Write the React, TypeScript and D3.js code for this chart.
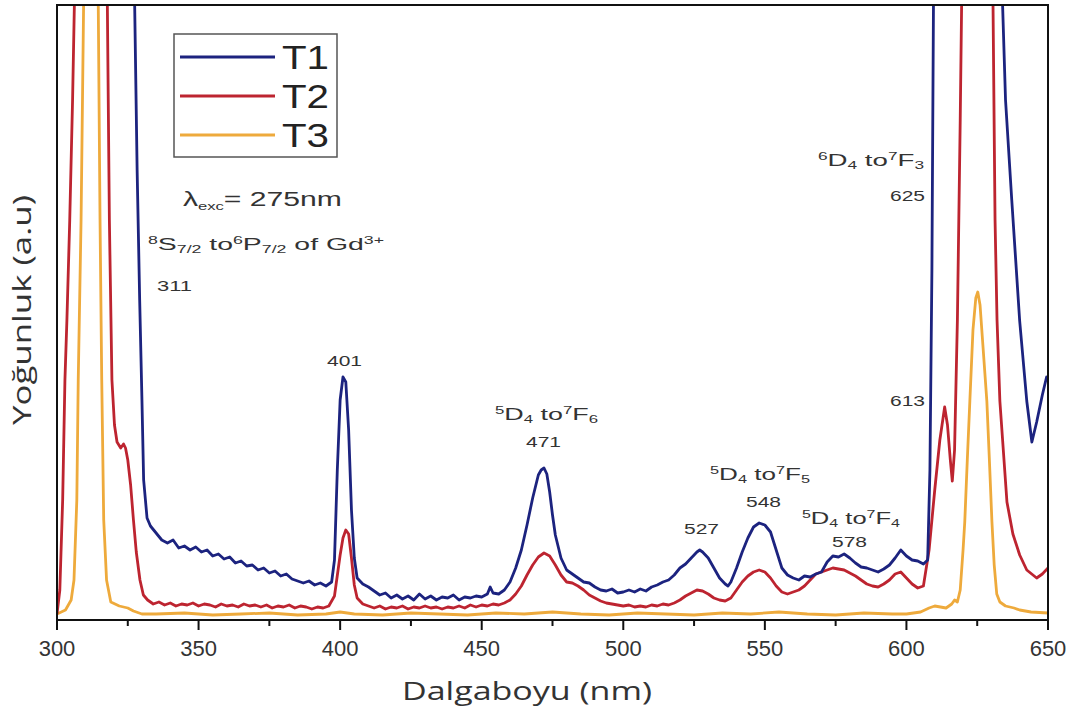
import React from "react";
import * as d3 from "d3";

const majorTicks = [300, 350, 400, 450, 500, 550, 600, 650];
const minorTicks = [325, 375, 425, 475, 525, 575, 625];

// [wavelength nm, intensity a.u.]
const T1: [number, number][] = [
  [300, 900], [326, 900], [327.3, 640], [328.3, 450], [329.2, 320], [330, 220], [330.6, 140], [331.8, 102],
  [333, 94], [335, 87], [337, 80], [339, 77], [341, 80], [343, 72], [345, 74], [347, 70], [349, 73],
  [351, 68], [353, 70], [355, 64], [357, 66], [359, 61], [361, 63], [363, 57], [365, 59], [367, 54],
  [369, 55], [371, 50], [373, 52], [375, 47], [377, 49], [379, 44], [381, 46], [383, 41], [385, 39],
  [387, 37], [389, 39], [391, 35], [393, 37], [395, 34], [397, 38], [398, 60], [399, 150], [400, 220],
  [401, 243], [402, 238], [403, 190], [404, 110], [405, 62], [406, 42], [408, 36], [410, 33], [412, 29],
  [414, 25], [416, 27], [418, 22], [420, 25], [422, 21], [424, 24], [426, 20], [428, 26], [430, 21],
  [432, 24], [434, 20], [436, 23], [438, 22], [440, 25], [442, 20], [444, 23], [446, 22], [448, 24],
  [450, 23], [452, 26], [453, 33], [454, 27], [456, 26], [458, 30], [460, 38], [462, 52], [464, 70],
  [466, 95], [468, 122], [470, 145], [471, 150], [472, 152], [473, 146], [474, 128], [475, 105],
  [476, 85], [478, 62], [480, 50], [482, 46], [484, 42], [486, 38], [488, 37], [490, 33], [492, 30],
  [494, 29], [496, 31], [498, 27], [500, 28], [502, 30], [504, 28], [506, 31], [508, 29], [510, 33],
  [512, 35], [514, 38], [516, 40], [518, 45], [520, 52], [522, 56], [524, 62], [526, 68], [527, 70],
  [528, 68], [530, 62], [532, 52], [534, 42], [536, 36], [537, 34], [538, 38], [540, 52], [542, 68],
  [544, 82], [546, 93], [548, 97], [550, 95], [552, 88], [554, 70], [556, 52], [558, 45], [560, 42],
  [562, 40], [564, 44], [566, 43], [568, 46], [570, 48], [572, 58], [574, 64], [576, 63], [578, 66],
  [580, 62], [582, 57], [584, 53], [586, 52], [588, 50], [590, 48], [592, 51], [594, 55], [596, 62],
  [598, 70], [600, 64], [602, 60], [604, 59], [606, 56], [607.5, 60], [608.3, 150], [609, 350],
  [609.6, 640], [610.2, 900], [633, 900], [633.8, 630], [635, 520], [637.2, 420], [640, 299],
  [642.5, 219], [644.3, 178], [646, 198], [648, 225], [649.5, 243], [650, 240],
];

const T2: [number, number][] = [
  [300, 6], [301, 30], [302, 120], [302.8, 240], [303.5, 300], [304.5, 400], [305.5, 520], [306.3, 640],
  [307, 900], [317, 900], [317.7, 640], [318.5, 400], [319.4, 240], [320.3, 195], [321.2, 178],
  [322.5, 172], [323.5, 176], [324.2, 172], [325, 160], [326, 135], [327, 100], [328, 68], [329.3, 40],
  [330.5, 25], [332, 20], [334, 16], [336, 18], [338, 15], [340, 17], [342, 14], [344, 16], [346, 15],
  [348, 17], [350, 14], [352, 16], [354, 15], [356, 13], [358, 16], [360, 14], [362, 15], [364, 13],
  [366, 16], [368, 14], [370, 15], [372, 13], [374, 15], [376, 12], [378, 14], [380, 13], [382, 15],
  [384, 12], [386, 14], [388, 13], [390, 11], [392, 13], [394, 12], [396, 14], [398, 24], [400, 65],
  [401, 82], [402, 90], [403, 86], [404, 62], [405, 35], [406, 22], [408, 16], [410, 14], [412, 12],
  [414, 14], [416, 11], [418, 13], [420, 12], [422, 14], [424, 11], [426, 13], [428, 12], [430, 14],
  [432, 12], [434, 13], [436, 11], [438, 13], [440, 12], [442, 14], [444, 12], [446, 15], [448, 13],
  [450, 15], [452, 14], [454, 16], [456, 15], [458, 17], [460, 20], [462, 26], [464, 34], [466, 45],
  [468, 55], [470, 63], [472, 67], [474, 64], [476, 55], [478, 45], [480, 38], [482, 37], [484, 34],
  [486, 30], [488, 25], [490, 22], [492, 19], [494, 17], [496, 16], [498, 15], [500, 14], [502, 15],
  [504, 13], [506, 14], [508, 13], [510, 15], [512, 14], [514, 16], [516, 15], [518, 17], [520, 20],
  [522, 24], [524, 27], [526, 30], [528, 29], [530, 26], [532, 22], [534, 20], [536, 19], [538, 22],
  [540, 30], [542, 38], [544, 44], [546, 48], [548, 50], [550, 48], [552, 42], [554, 34], [556, 28],
  [558, 26], [560, 28], [562, 30], [564, 34], [566, 40], [568, 46], [570, 48], [572, 50], [574, 52],
  [576, 51], [578, 50], [580, 47], [582, 44], [584, 40], [586, 36], [588, 34], [590, 33], [592, 36],
  [594, 40], [596, 46], [598, 48], [600, 42], [602, 36], [604, 32], [606, 34], [608, 70], [610, 130],
  [611.8, 180], [613.5, 213], [614.5, 195], [615.5, 160], [616.2, 139], [617, 170], [618, 300],
  [619, 500], [619.6, 640], [620, 900], [630, 900], [630.5, 640], [631.3, 400], [632, 300], [633, 219],
  [635.5, 118], [637.6, 86], [640, 65], [642.5, 50], [646, 42], [648, 46], [650, 52],
];

const T3: [number, number][] = [
  [300, 6], [303, 10], [305, 20], [306, 40], [307, 120], [307.5, 240], [308.5, 400], [309.5, 640],
  [310, 900], [314, 900], [314.5, 640], [315.2, 400], [315.8, 240], [316.5, 100], [317.5, 40],
  [319, 18], [322, 14], [325, 12], [327, 9], [330, 6], [335, 6], [345, 7], [355, 5], [365, 6],
  [375, 7], [385, 5], [395, 6], [400, 8], [405, 6], [415, 5], [425, 7], [435, 6], [445, 5], [455, 7],
  [465, 6], [475, 8], [485, 6], [495, 5], [505, 7], [515, 6], [525, 5], [535, 7], [545, 6], [555, 8],
  [565, 6], [575, 5], [585, 7], [595, 6], [600, 6], [605, 8], [608, 12], [610, 14], [612, 13],
  [614, 12], [616, 16], [617, 20], [618, 18], [619, 30], [620, 70], [620.6, 98], [621.5, 160],
  [622.4, 219], [623.5, 290], [624.5, 322], [625.2, 328], [626, 315], [627, 275], [628.4, 219],
  [629.3, 160], [630.2, 98], [631, 55], [631.9, 26], [633, 18], [635, 14], [638, 12], [640, 10],
  [644, 8], [650, 7],
];

const seriesNames = ["T1", "T2", "T3"];
const seriesColors = ["#1c237f", "#bd2430", "#eeaa3c"];

const W = 1084;
const H = 715;
const L = 57, R = 1048, TOP = 5, BOT = 620;

type TermProps = { x: number; y: number; pre: string; sub1: string; sup2: string; sub2: string; len: number; main?: string };
function Term({ x, y, pre, sub1, sup2, sub2, len }: TermProps) {
  return (
    <text x={x} y={y} fontFamily="'Liberation Sans', Arial, sans-serif" fill="#333" fontSize={16}
      textLength={len} lengthAdjust="spacingAndGlyphs">
      <tspan dy={-6} fontSize={10}>{pre}</tspan>
      <tspan dy={6}>D</tspan>
      <tspan dy={3} fontSize={10}>{sub1}</tspan>
      <tspan dy={-3}> to</tspan>
      <tspan dy={-6} fontSize={10}>{sup2}</tspan>
      <tspan dy={6}>F</tspan>
      <tspan dy={3} fontSize={10}>{sub2}</tspan>
    </text>
  );
}

function Num({ x, y, t }: { x: number; y: number; t: string }) {
  return (
    <text x={x} y={y} fontFamily="'Liberation Sans', Arial, sans-serif" fill="#333" fontSize={15}
      textLength={35} lengthAdjust="spacingAndGlyphs">{t}</text>
  );
}

export default function App() {
  const x = d3.scaleLinear().domain([300, 650]).range([L, R]);
  const y = d3.scaleLinear().domain([0, 615]).range([BOT, TOP]);
  const line = d3.line<[number, number]>().x(d => x(d[0])).y(d => y(d[1]));
  const data = [T1, T2, T3];
  const font = "'Liberation Sans', Arial, sans-serif";
  const titleFont = "'Open Sans', 'Noto Sans', sans-serif";
  return (
    <svg width={W} height={H} style={{ position: "absolute", left: 0, top: 0, background: "#fff" }}>
      <defs>
        <clipPath id="plotclip">
          <rect x={L} y={TOP} width={R - L} height={BOT - TOP} />
        </clipPath>
      </defs>
      <rect x={0} y={0} width={W} height={H} fill="#fff" />
      <g clipPath="url(#plotclip)">
        {[2, 1, 0].map(i => (
          <path key={i} d={line(data[i]) || ""} fill="none" stroke={seriesColors[i]} strokeWidth={2.8} strokeLinejoin="round" />
        ))}
      </g>
      {/* frame */}
      <rect x={L} y={TOP} width={R - L} height={BOT - TOP} fill="none" stroke="#111" strokeWidth={2} />
      {/* ticks */}
      {majorTicks.map(t => (
        <g key={t}>
          <line x1={x(t)} x2={x(t)} y1={BOT} y2={BOT + 10} stroke="#111" strokeWidth={2} />
          <text x={x(t)} y={BOT + 36} textAnchor="middle" fontFamily={font} fontSize={22} fill="#333">{t}</text>
        </g>
      ))}
      {minorTicks.map(t => (
        <line key={t} x1={x(t)} x2={x(t)} y1={BOT} y2={BOT + 6} stroke="#111" strokeWidth={2} />
      ))}
      <text x={402} y={700} fontFamily={titleFont} fontSize={26} fill="#333" textLength={250} lengthAdjust="spacingAndGlyphs">Dalgaboyu (nm)</text>
      <text transform={`translate(31, 425) rotate(-90)`} fontFamily={titleFont} fontSize={26} fill="#333" textLength={230} lengthAdjust="spacingAndGlyphs">Yoğunluk (a.u)</text>

      {/* legend */}
      <rect x={174} y={34} width={163} height={123} fill="#fff" stroke="#555" strokeWidth={1.5} />
      {seriesNames.map((n, i) => (
        <g key={n}>
          <line x1={180} x2={275} y1={57 + i * 39} y2={57 + i * 39} stroke={seriesColors[i]} strokeWidth={2.8} />
          <text x={282} y={69 + i * 39} fontFamily={font} fontSize={33} fill="#222" textLength={47} lengthAdjust="spacingAndGlyphs">{n}</text>
        </g>
      ))}

      {/* annotations */}
      <text x={183} y={206} fontFamily={font} fontSize={20} fill="#333" textLength={159} lengthAdjust="spacingAndGlyphs">λ<tspan dy={4} fontSize={11}>exc</tspan><tspan dy={-4}>= 275nm</tspan></text>
      <text x={148} y={250} fontFamily={font} fill="#333" fontSize={16} textLength={236} lengthAdjust="spacingAndGlyphs">
        <tspan dy={-6} fontSize={10}>8</tspan><tspan dy={6}>S</tspan><tspan dy={3} fontSize={10}>7/2</tspan><tspan dy={-3}> to</tspan><tspan dy={-6} fontSize={10}>6</tspan><tspan dy={6}>P</tspan><tspan dy={3} fontSize={10}>7/2</tspan><tspan dy={-3}> of Gd</tspan><tspan dy={-6} fontSize={10}>3+</tspan>
      </text>
      <Num x={157} y={291} t="311" />
      <Num x={327} y={366} t="401" />
      <Term x={495} y={420} pre="5" sub1="4" sup2="7" sub2="6" len={103} />
      <Num x={526} y={447} t="471" />
      <Num x={684} y={534} t="527" />
      <Term x={710} y={480} pre="5" sub1="4" sup2="7" sub2="5" len={100} />
      <Num x={746} y={507} t="548" />
      <Term x={802} y={524} pre="5" sub1="4" sup2="7" sub2="4" len={98} />
      <Num x={832} y={547} t="578" />
      <Term x={818} y={166} pre="6" sub1="4" sup2="7" sub2="3" len={106} />
      <Num x={890} y={201} t="625" />
      <Num x={890} y={406} t="613" />
    </svg>
  );
}
